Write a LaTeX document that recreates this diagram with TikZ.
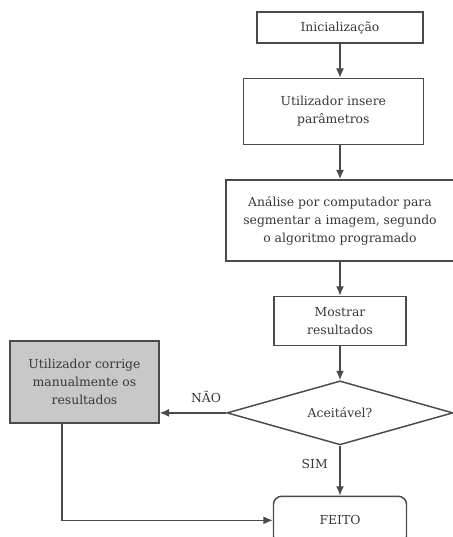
\documentclass[tikz,border=0pt]{standalone}
\usepackage{fontspec}
\setmainfont{DejaVu Serif}
\usepackage{tikz}
\usetikzlibrary{arrows.meta,shapes,positioning}

\definecolor{inkgray}{HTML}{4A4A4A}
\definecolor{txtgray}{HTML}{383838}
\definecolor{boxgray}{HTML}{C8C8C8}

\begin{document}
\begin{tikzpicture}[
		x=0.75pt, y=-0.75pt,
		basic/.style    = {draw=inkgray, line width=1.1pt, text=txtgray, font=\fontsize{9.3}{13.5}\selectfont, align=center, inner sep=2pt},
		proc/.style     = {basic, rectangle},
		decision/.style = {basic, diamond, aspect=3.5, inner sep=0pt, minimum width=169.5pt, minimum height=48pt},
		final/.style    = {basic, rectangle, rounded corners=6pt, minimum width=99.75pt, minimum height=36pt},
		manual/.style   = {proc, fill=boxgray, minimum width=111.75pt, minimum height=61.5pt},
		lbl/.style      = {text=txtgray, font=\fontsize{9.3}{13.5}\selectfont, inner sep=0pt},
		flow/.style     = {->, draw=inkgray, line width=1.1pt},
		node distance=25.5pt,
		>={Latex[length=7pt,width=6pt]}]
		
		\useasboundingbox (0,0) rectangle (453,537);
		
		% Main column, each step below the previous one
		\node[proc, minimum width=124.5pt, minimum height=23.25pt] (init) at (340,27.5) {Inicialização};
		\node[proc, below=of init, xshift=-5pt, minimum width=135pt, minimum height=49.5pt] (user) {Utilizador insere\\parâmetros};
		\node[proc, below=of user, xshift=5pt, minimum width=171pt, minimum height=60.75pt] (anal) {Análise por computador para\\segmentar a imagem, segundo\\o algoritmo programado};
		\node[proc, below=of anal, minimum width=99pt, minimum height=36.75pt] (show) {Mostrar\\resultados};
		\node[decision, below=of show] (dec) {Aceitável?};
		\node[final, below=37.5pt of dec] (done) {FEITO};
		
		% Manual correction, to the left
		\node[manual] (fix) at (84.5,382) {Utilizador corrige\\manualmente os\\resultados};
		
		% Branch labels
		\node[lbl, above left=7.5pt and 3.75pt of dec.west] (no) {NÃO};
		\node[lbl, below left=10pt and 9pt of dec.south] (yes) {SIM};
		
		% Arrows between the steps
		\draw[flow] (init) -- (init |- user.north);
		\draw[flow] (user.south -| init) -- (init |- anal.north);
		\draw[flow] (anal) -- (show);
		\draw[flow] (show) -- (dec);
		\draw[flow] (dec) -- (done);
		\draw[flow] (dec.west) -- (dec.west -| fix.east);
		\draw[flow] ([xshift=-17pt]fix.south) |- (done.west);
		
	\end{tikzpicture}
\end{document}
